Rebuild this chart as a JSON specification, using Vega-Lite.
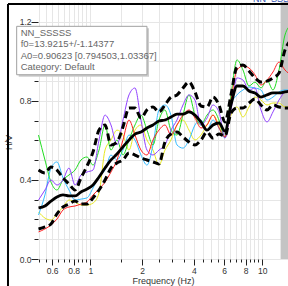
{
  "$schema": "https://vega.github.io/schema/vega-lite/v6.json",
  "width": 250,
  "height": 257,
  "autosize": {"type": "none"},
  "padding": {"left": 38, "top": 2, "right": 0, "bottom": 27},
  "background": "white",
  "config": {"view": {"stroke": null}, "font": "Liberation Sans"},
  "datasets": {
    "curves": [
      {"f":0.5,"R":0.137,"G":0.627,"C":0.223,"P":0.298,"Y":0.238,"M":0.258,"U":0.450,"L":0.152},
      {"f":0.545,"R":0.152,"G":0.501,"C":0.324,"P":0.349,"Y":0.207,"M":0.268,"U":0.435,"L":0.162},
      {"f":0.591,"R":0.172,"G":0.389,"C":0.460,"P":0.400,"Y":0.197,"M":0.293,"U":0.465,"L":0.177},
      {"f":0.640,"R":0.202,"G":0.349,"C":0.491,"P":0.374,"Y":0.228,"M":0.314,"U":0.450,"L":0.228},
      {"f":0.694,"R":0.248,"G":0.400,"C":0.410,"P":0.400,"Y":0.263,"M":0.324,"U":0.410,"L":0.263},
      {"f":0.752,"R":0.263,"G":0.425,"C":0.349,"P":0.460,"Y":0.298,"M":0.319,"U":0.379,"L":0.278},
      {"f":0.815,"R":0.268,"G":0.450,"C":0.298,"P":0.374,"Y":0.288,"M":0.319,"U":0.349,"L":0.293},
      {"f":0.883,"R":0.278,"G":0.501,"C":0.303,"P":0.425,"Y":0.273,"M":0.339,"U":0.410,"L":0.278},
      {"f":0.957,"R":0.288,"G":0.516,"C":0.309,"P":0.440,"Y":0.273,"M":0.354,"U":0.470,"L":0.278},
      {"f":1.037,"R":0.324,"G":0.475,"C":0.359,"P":0.450,"Y":0.283,"M":0.374,"U":0.541,"L":0.309},
      {"f":1.124,"R":0.354,"G":0.551,"C":0.420,"P":0.602,"Y":0.334,"M":0.415,"U":0.652,"L":0.349},
      {"f":1.218,"R":0.389,"G":0.678,"C":0.450,"P":0.728,"Y":0.551,"M":0.460,"U":0.678,"L":0.400},
      {"f":1.319,"R":0.440,"G":0.551,"C":0.526,"P":0.678,"Y":0.602,"M":0.501,"U":0.577,"L":0.460},
      {"f":1.430,"R":0.501,"G":0.602,"C":0.501,"P":0.577,"Y":0.652,"M":0.531,"U":0.592,"L":0.486},
      {"f":1.549,"R":0.602,"G":0.526,"C":0.551,"P":0.703,"Y":0.627,"M":0.567,"U":0.668,"L":0.501},
      {"f":1.679,"R":0.703,"G":0.602,"C":0.627,"P":0.830,"Y":0.551,"M":0.602,"U":0.764,"L":0.536},
      {"f":1.819,"R":0.627,"G":0.678,"C":0.602,"P":0.865,"Y":0.652,"M":0.632,"U":0.764,"L":0.526},
      {"f":1.971,"R":0.551,"G":0.728,"C":0.526,"P":0.703,"Y":0.678,"M":0.642,"U":0.713,"L":0.511},
      {"f":2.136,"R":0.526,"G":0.652,"C":0.475,"P":0.551,"Y":0.602,"M":0.663,"U":0.754,"L":0.501},
      {"f":2.315,"R":0.602,"G":0.577,"C":0.577,"P":0.526,"Y":0.551,"M":0.678,"U":0.769,"L":0.491},
      {"f":2.508,"R":0.652,"G":0.703,"C":0.754,"P":0.551,"Y":0.475,"M":0.698,"U":0.744,"L":0.481},
      {"f":2.718,"R":0.678,"G":0.754,"C":0.779,"P":0.577,"Y":0.551,"M":0.703,"U":0.779,"L":0.592},
      {"f":2.945,"R":0.627,"G":0.652,"C":0.728,"P":0.652,"Y":0.602,"M":0.718,"U":0.819,"L":0.632},
      {"f":3.192,"R":0.678,"G":0.627,"C":0.577,"P":0.703,"Y":0.678,"M":0.733,"U":0.830,"L":0.642},
      {"f":3.459,"R":0.728,"G":0.728,"C":0.561,"P":0.779,"Y":0.703,"M":0.733,"U":0.865,"L":0.617},
      {"f":3.748,"R":0.754,"G":0.830,"C":0.602,"P":0.830,"Y":0.652,"M":0.744,"U":0.895,"L":0.592},
      {"f":4.061,"R":0.713,"G":0.728,"C":0.678,"P":0.804,"Y":0.602,"M":0.728,"U":0.845,"L":0.577},
      {"f":4.401,"R":0.663,"G":0.678,"C":0.703,"P":0.678,"Y":0.627,"M":0.693,"U":0.774,"L":0.602},
      {"f":4.770,"R":0.678,"G":0.728,"C":0.652,"P":0.713,"Y":0.678,"M":0.652,"U":0.769,"L":0.642},
      {"f":5.169,"R":0.728,"G":0.754,"C":0.703,"P":0.779,"Y":0.728,"M":0.678,"U":0.819,"L":0.612},
      {"f":5.601,"R":0.663,"G":0.703,"C":0.663,"P":0.744,"Y":0.678,"M":0.688,"U":0.779,"L":0.632},
      {"f":6.069,"R":0.617,"G":0.617,"C":0.612,"P":0.612,"Y":0.617,"M":0.647,"U":0.693,"L":0.622},
      {"f":6.577,"R":0.804,"G":0.830,"C":0.779,"P":0.754,"Y":0.728,"M":0.779,"U":0.830,"L":0.738},
      {"f":7.128,"R":0.956,"G":1.007,"C":0.830,"P":0.916,"Y":0.769,"M":0.875,"U":0.971,"L":0.764},
      {"f":7.724,"R":0.976,"G":0.956,"C":0.855,"P":0.905,"Y":0.718,"M":0.875,"U":0.981,"L":0.764},
      {"f":8.370,"R":0.966,"G":0.875,"C":0.870,"P":0.855,"Y":0.769,"M":0.850,"U":0.951,"L":0.789},
      {"f":9.070,"R":0.931,"G":0.895,"C":0.865,"P":0.865,"Y":0.819,"M":0.840,"U":0.916,"L":0.809},
      {"f":9.827,"R":0.880,"G":0.865,"C":0.855,"P":0.754,"Y":0.804,"M":0.819,"U":0.895,"L":0.779},
      {"f":10.65,"R":0.905,"G":0.905,"C":0.804,"P":0.693,"Y":0.779,"M":0.830,"U":0.900,"L":0.754},
      {"f":11.54,"R":0.946,"G":0.855,"C":0.819,"P":0.744,"Y":0.789,"M":0.840,"U":0.916,"L":0.779},
      {"f":12.51,"R":0.996,"G":0.956,"C":0.845,"P":0.804,"Y":0.789,"M":0.840,"U":0.941,"L":0.769},
      {"f":13.55,"R":0.956,"G":1.133,"C":0.855,"P":0.845,"Y":0.769,"M":0.845,"U":1.057,"L":0.764},
      {"f":14.69,"R":0.931,"G":1.184,"C":0.855,"P":0.855,"Y":0.769,"M":0.850,"U":1.108,"L":0.764}
    ],
    "band": [{"f":12.78,"f2":15.06,"v":0,"v2":1.3}],
    "shadow": [{"f":0.3835,"f2":2.194,"v":1.167,"v2":0.9215}],
    "box": [{"f":0.3733,"f2":2.136,"v":1.177,"v2":0.932}],
    "boxtext": [
      {"f":0.3938,"v":1.129,"t":"NN_SSSSS"},
      {"f":0.3938,"v":1.071,"t":"f0=13.9215+/-1.14377"},
      {"f":0.3938,"v":1.013,"t":"A0=0.90623 [0.794503,1.03367]"},
      {"f":0.3938,"v":0.955,"t":"Category: Default"}
    ],
    "frame": [
      {"f":0.3323,"f2":0.3323,"v":-0.3,"v2":1.29},
      {"f":0.3323,"f2":30,"v":1.29,"v2":1.29}
    ],
    "toplabel": [{"f":8.83,"v":1.301,"t":"NN_SSSSS"}]
  },
  "encoding": {
    "x": {
      "field": "f", "type": "quantitative",
      "scale": {"type": "log", "domain": [0.4966, 14.11], "nice": false},
      "axis": {
        "title": "Frequency (Hz)",
        "values": [0.5,0.55,0.6,0.65,0.7,0.75,0.8,0.85,0.9,0.95,1,1.5,2,2.5,3,3.5,4,4.5,5,5.5,6,6.5,7,7.5,8,8.5,9,9.5,10],
        "labelExpr": "indexof([0.6,0.8,1,2,4,6,8,10], datum.value) >= 0 ? datum.value + '' : ''",
        "labelOverlap": false,
        "labelFlush": false,
        "tickSize": {"condition": {"test": "indexof([0.6,0.8,1,2,4,6,8,10], datum.value) >= 0", "value": 6}, "value": 3},
        "grid": true,
        "gridColor": "#e6e6e6",
        "domain": false,
        "tickColor": "#222",
        "labelColor": "#333",
        "labelFontSize": 8.5,
        "labelPadding": 1,
        "titleFontSize": 9,
        "titleFontWeight": "normal",
        "titleColor": "#333",
        "titlePadding": 2
      }
    },
    "y": {
      "field": "v", "type": "quantitative",
      "scale": {"domain": [0, 1.3], "nice": false, "zero": false},
      "axis": {
        "title": "H/V",
        "values": [0,0.1,0.2,0.3,0.4,0.5,0.6,0.7,0.8,0.9,1.0,1.1,1.2],
        "labelExpr": "indexof([0,4,8,12], round(datum.value*10)) >= 0 ? format(datum.value, '.1f') : ''",
        "labelOverlap": false,
        "labelFlush": false,
        "tickSize": {"condition": {"test": "indexof([0,4,8,12], round(datum.value*10)) >= 0", "value": 7}, "value": 4},
        "grid": true,
        "gridColor": "#e6e6e6",
        "domain": false,
        "tickColor": "#222",
        "labelColor": "#333",
        "labelFontSize": 8.5,
        "labelPadding": 0,
        "titleFontSize": 9,
        "titleFontWeight": "normal",
        "titleColor": "#333",
        "titleX": -25,
        "titleY": 140
      }
    }
  },
  "layer": [
    {
      "data": {"name": "band"},
      "mark": {"type": "rect", "color": "#c4c4c4", "clip": true},
      "encoding": {"x2": {"field": "f2"}, "y2": {"field": "v2"}}
    },
    {
      "data": {"name": "curves"},
      "transform": [{"fold": ["Y","C","G","P","R"], "as": ["s","v"]}],
      "mark": {"type": "line", "interpolate": "monotone", "strokeWidth": 1, "clip": true},
      "encoding": {
        "color": {"field": "s", "type": "nominal", "scale": {"domain": ["R","G","C","P","Y"], "range": ["#ff2020","#22dd22","#33bbff","#9040ff","#e8e820"]}, "legend": null}
      }
    },
    {
      "data": {"name": "curves"},
      "transform": [{"fold": ["M"], "as": ["s","v"]}],
      "mark": {"type": "line", "interpolate": "monotone", "strokeWidth": 2.8, "color": "black", "clip": true},
      "encoding": {}
    },
    {
      "data": {"name": "curves"},
      "transform": [{"fold": ["U","L"], "as": ["s","v"]}],
      "mark": {"type": "line", "interpolate": "monotone", "strokeWidth": 3, "strokeDash": [7,4], "color": "black", "clip": true},
      "encoding": {"detail": {"field": "s", "type": "nominal"}}
    },
    {
      "data": {"name": "shadow"},
      "mark": {"type": "rect", "color": "#cccccc", "clip": false},
      "encoding": {"x2": {"field": "f2"}, "y2": {"field": "v2"}}
    },
    {
      "data": {"name": "box"},
      "mark": {"type": "rect", "fill": "white", "stroke": "#a0a0a0", "strokeWidth": 1, "clip": false},
      "encoding": {"x2": {"field": "f2"}, "y2": {"field": "v2"}}
    },
    {
      "data": {"name": "boxtext"},
      "mark": {"type": "text", "align": "left", "baseline": "alphabetic", "fontSize": 9.5, "color": "#666", "clip": false},
      "encoding": {"text": {"field": "t", "type": "nominal"}}
    },
    {
      "data": {"name": "toplabel"},
      "mark": {"type": "text", "align": "left", "baseline": "alphabetic", "fontSize": 9, "color": "#3050b0", "clip": false},
      "encoding": {"text": {"field": "t", "type": "nominal"}}
    },
    {
      "data": {"name": "frame"},
      "mark": {"type": "rule", "color": "black", "strokeWidth": 2, "clip": false},
      "encoding": {"x2": {"field": "f2"}, "y2": {"field": "v2"}}
    }
  ]
}
